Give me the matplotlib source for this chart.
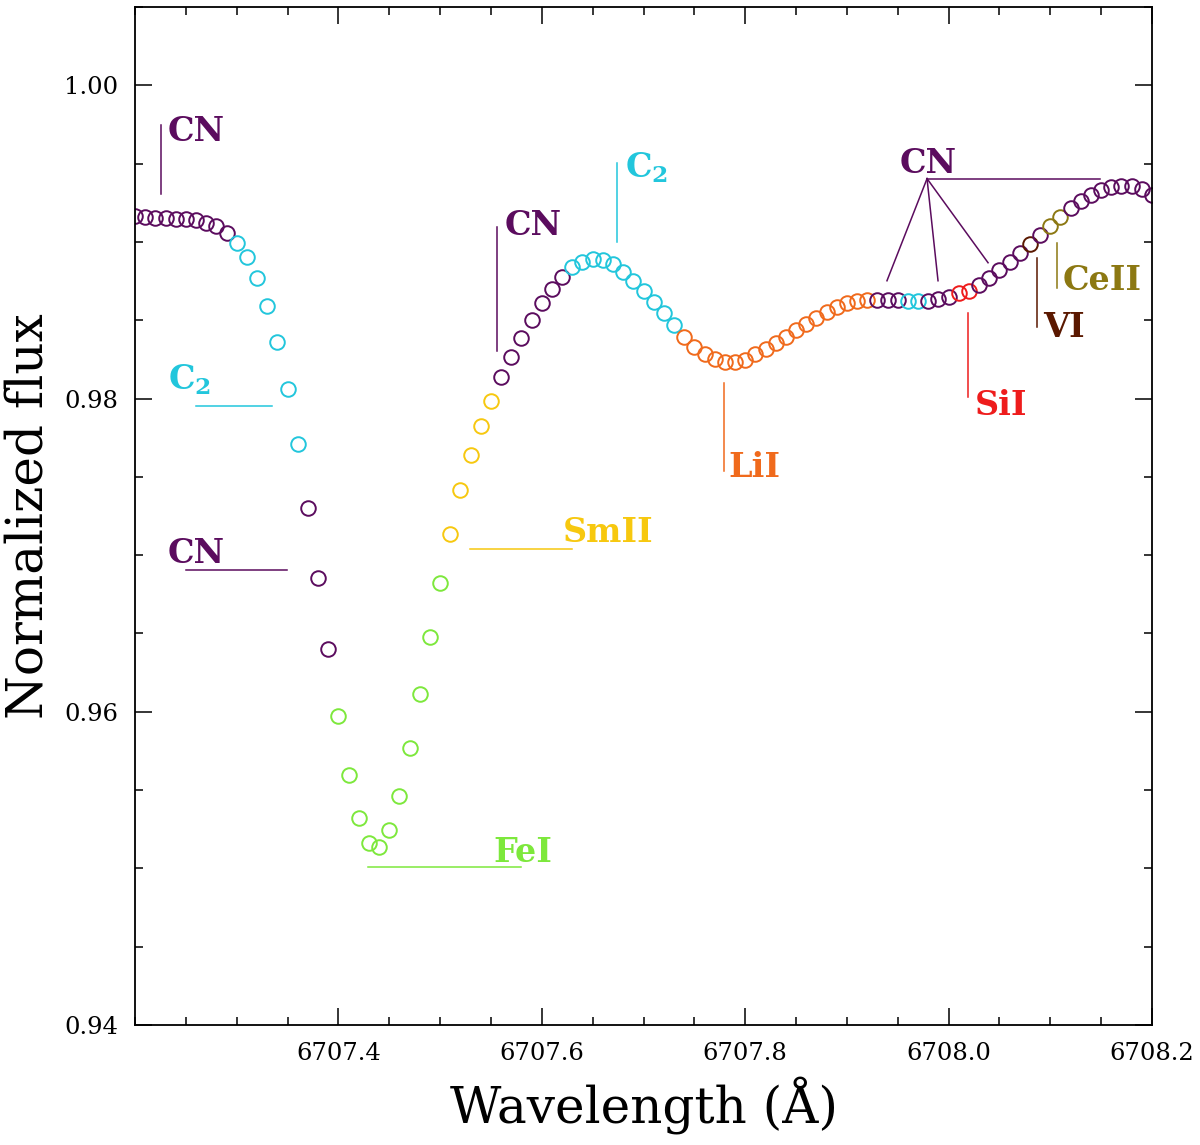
import matplotlib

matplotlib.use("Agg")
import matplotlib.pyplot as plt
from matplotlib.ticker import MultipleLocator

# synthetic spectrum around the Li I 6708 doublet, one point per 0.01 A
wave = [
    6707.20, 6707.21, 6707.22, 6707.23, 6707.24, 6707.25, 6707.26, 6707.27, 6707.28, 6707.29,
    6707.30, 6707.31, 6707.32, 6707.33, 6707.34, 6707.35, 6707.36, 6707.37, 6707.38, 6707.39,
    6707.40, 6707.41, 6707.42, 6707.43, 6707.44, 6707.45, 6707.46, 6707.47, 6707.48, 6707.49,
    6707.50, 6707.51, 6707.52, 6707.53, 6707.54, 6707.55, 6707.56, 6707.57, 6707.58, 6707.59,
    6707.60, 6707.61, 6707.62, 6707.63, 6707.64, 6707.65, 6707.66, 6707.67, 6707.68, 6707.69,
    6707.70, 6707.71, 6707.72, 6707.73, 6707.74, 6707.75, 6707.76, 6707.77, 6707.78, 6707.79,
    6707.80, 6707.81, 6707.82, 6707.83, 6707.84, 6707.85, 6707.86, 6707.87, 6707.88, 6707.89,
    6707.90, 6707.91, 6707.92, 6707.93, 6707.94, 6707.95, 6707.96, 6707.97, 6707.98, 6707.99,
    6708.00, 6708.01, 6708.02, 6708.03, 6708.04, 6708.05, 6708.06, 6708.07, 6708.08, 6708.09,
    6708.10, 6708.11, 6708.12, 6708.13, 6708.14, 6708.15, 6708.16, 6708.17, 6708.18, 6708.19,
    6708.20,
]
flux = [
    0.99163, 0.99159, 0.99155, 0.99153, 0.99149, 0.99147, 0.99138, 0.99121, 0.99099, 0.99057,
    0.98993, 0.98904, 0.98770, 0.98593, 0.98358, 0.98064, 0.97711, 0.97302, 0.96855, 0.96402,
    0.95974, 0.95597, 0.95322, 0.95162, 0.95137, 0.95246, 0.95463, 0.95769, 0.96114, 0.96478,
    0.96823, 0.97136, 0.97417, 0.97638, 0.97826, 0.97986, 0.98139, 0.98267, 0.98388, 0.98503,
    0.98612, 0.98701, 0.98778, 0.98842, 0.98874, 0.98893, 0.98887, 0.98861, 0.98810, 0.98752,
    0.98689, 0.98618, 0.98548, 0.98471, 0.98395, 0.98331, 0.98286, 0.98254, 0.98235, 0.98235,
    0.98248, 0.98286, 0.98318, 0.98356, 0.98395, 0.98439, 0.98478, 0.98516, 0.98554, 0.98586,
    0.98612, 0.98625, 0.98631, 0.98631, 0.98631, 0.98631, 0.98625, 0.98625, 0.98625, 0.98637,
    0.98650, 0.98676, 0.98689, 0.98727, 0.98772, 0.98823, 0.98874, 0.98931, 0.98989, 0.99046,
    0.99104, 0.99161, 0.99219, 0.99263, 0.99302, 0.99334, 0.99353, 0.99359, 0.99359, 0.99340,
    0.99302,
]
# dominant species for each point, as runs along the spectrum
runs = [("CN", 10), ("C2", 7), ("CN", 3), ("FeI", 11), ("SmII", 5), ("CN", 7), ("C2", 11),
        ("LiI", 19), ("CN", 3), ("C2", 2), ("CN", 3), ("SiI", 2), ("CN", 5), ("VI", 1),
        ("CN", 1), ("CeII", 2), ("CN", 9)]

SPECIES_COLORS = {
    "CN": "#5b0c5e", "C2": "#22c6dc", "FeI": "#7de83c", "SmII": "#f7c80f",
    "LiI": "#f06a1c", "SiI": "#ee1c1c", "VI": "#5a1800", "CeII": "#8c7812",
}

# line markers: (species, x, y_low, y_high) and (species, x0, x1, y)
vmarks = [
    ("CN", 6707.2253, 0.99308, 0.99749),
    ("CN", 6707.5560, 0.98305, 0.99097),
    ("C2", 6707.6740, 0.99002, 0.99506),
    ("LiI", 6707.7792, 0.97539, 0.98101),
    ("SiI", 6708.0191, 0.98011, 0.98548),
    ("VI", 6708.0869, 0.98459, 0.98899),
    ("CeII", 6708.1066, 0.98708, 0.98995),
]
hmarks = [
    ("C2", 6707.2600, 6707.3347, 0.97954),
    ("CN", 6707.2501, 6707.3495, 0.96905),
    ("FeI", 6707.4290, 6707.5796, 0.95010),
    ("SmII", 6707.5294, 6707.6297, 0.97041),
    ("CN", 6707.9788, 6708.1489, 0.99404),
]
cn_apex = (6707.9788, 0.99404)
cn_fan = [(6707.9394, 0.98752), (6707.9896, 0.98752), (6708.0388, 0.98867)]

# labels: (species, text, x, baseline y)
labels = [
    ("CN", "CN", 6707.2324, 0.99647),
    ("C2", r"$\mathbf{C}_{\mathbf{2}}$", 6707.2324, 0.98056),
    ("CN", "CN", 6707.2324, 0.96950),
    ("FeI", "FeI", 6707.5520, 0.95042),
    ("SmII", "SmII", 6707.6208, 0.97085),
    ("CN", "CN", 6707.5638, 0.99046),
    ("C2", r"$\mathbf{C}_{\mathbf{2}}$", 6707.6818, 0.99410),
    ("LiI", "LiI", 6707.7837, 0.97500),
    ("CN", "CN", 6707.9522, 0.99442),
    ("SiI", "SiI", 6708.0260, 0.97897),
    ("VI", "VI", 6708.0928, 0.98395),
    ("CeII", "CeII", 6708.1125, 0.98695),
]

plt.rcParams["font.family"] = "DejaVu Serif"
plt.rcParams["mathtext.fontset"] = "dejavuserif"

fig = plt.figure(figsize=(12, 11.45), dpi=100)
ax = fig.add_axes([0.1125, 0.1048, 0.8475, 0.8891])

colors = []
for name, n in runs:
    colors += [SPECIES_COLORS[name]] * n
for x, y, c in zip(wave, flux, colors):
    ax.plot(x, y, "o", mfc="none", mec=c, ms=10.5, mew=1.4)

for name, x, y0, y1 in vmarks:
    ax.plot([x, x], [y0, y1], color=SPECIES_COLORS[name], lw=1.1)
for name, x0, x1, y in hmarks:
    ax.plot([x0, x1], [y, y], color=SPECIES_COLORS[name], lw=1.1)
for x, y in cn_fan:
    ax.plot([cn_apex[0], x], [cn_apex[1], y], color=SPECIES_COLORS["CN"], lw=1.1)

for name, txt, x, y in labels:
    ax.text(x, y, txt, color=SPECIES_COLORS[name], fontsize=24, fontweight="bold",
            va="baseline", ha="left")

ax.set_xlim(6707.2, 6708.2)
ax.set_ylim(0.94, 1.005)
ax.xaxis.set_minor_locator(MultipleLocator(0.05))
ax.yaxis.set_minor_locator(MultipleLocator(0.005))
ax.set_xticks([6707.4, 6707.6, 6707.8, 6708.0, 6708.2])
ax.set_xticklabels(["6707.4", "6707.6", "6707.8", "6708.0", "6708.2"])
ax.set_yticks([0.94, 0.96, 0.98, 1.00])
ax.set_yticklabels(["0.94", "0.96", "0.98", "1.00"])
ax.tick_params(which="both", direction="in", top=True, right=True, width=1.1, labelsize=17.5, pad=12)
ax.tick_params(which="major", length=12)
ax.tick_params(which="minor", length=6)
for sp in ax.spines.values():
    sp.set_linewidth(1.3)

ax.set_xlabel("Wavelength (Å)", fontsize=36, labelpad=8)
ax.set_ylabel("Normalized flux", fontsize=36, labelpad=8)

fig.savefig("out.png", dpi=100)
